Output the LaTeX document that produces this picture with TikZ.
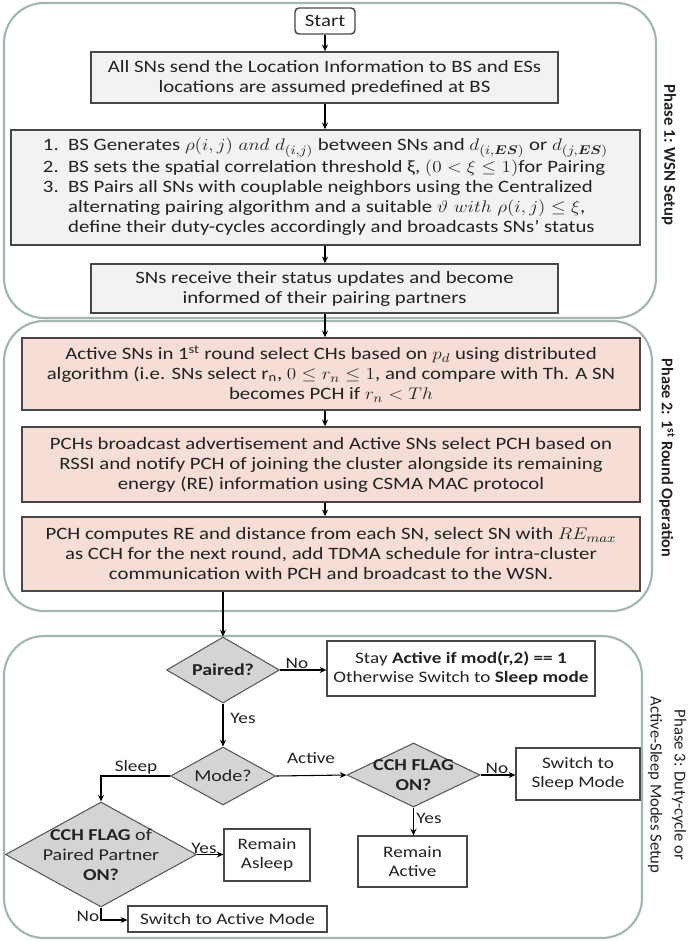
\documentclass[tikz,border=0pt]{standalone}
\usepackage{amsmath}
\usepackage{fontspec}
\setmainfont{Carlito}[FakeStretch=1.2]
\newfontfamily\plainfont{Carlito}
\usetikzlibrary{shapes.geometric,arrows.meta}
\newcommand\mth[1]{\scalebox{1.2}[1.05]{$#1$}}
\definecolor{phasecol}{HTML}{A3B5B5}
\definecolor{boxline}{HTML}{474747}
\definecolor{grayfill}{HTML}{F2F2F2}
\definecolor{pinkfill}{HTML}{F6DDD6}
\definecolor{diafill}{HTML}{D4D4D4}
\definecolor{txt}{HTML}{222222}
\tikzset{
  phasebox/.style={draw=phasecol, line width=1.6pt, rounded corners=30pt},
  basebox/.style={draw=boxline, line width=1.1pt, inner sep=0pt, align=center, text=txt},
  graybox/.style={basebox, fill=grayfill},
  pinkbox/.style={basebox, fill=pinkfill},
  whitebox/.style={basebox, fill=white, line width=0.9pt, font=\fontsize{12}{14.5}\selectfont},
  dia/.style={diamond, draw=boxline!90, line width=0.8pt, fill=diafill, inner sep=0pt},
  diatext/.style={align=center, text=txt, inner sep=0pt},
  lbl/.style={text=txt, inner sep=0pt, font=\fontsize{12}{14.5}\selectfont},
  arr/.style={draw=black, line width=0.8pt, -{Stealth[length=5pt,width=4.5pt]}},
  phaselbl/.style={rotate=-90, align=center, text=txt, inner sep=0pt}
}
\begin{document}
\begin{tikzpicture}[x=0.75pt,y=-0.75pt, every node/.style={font=\fontsize{13}{15}\selectfont}]
\useasboundingbox[fill=white] (0,0) rectangle (688,942);

% phase containers
\draw[phasebox] (4,3) rectangle (656,318);
\draw[phasebox] (4,321) rectangle (652,611);
\draw[phasebox] (4,636) rectangle (642,938);

% phase labels
\node[phaselbl, font=\fontsize{12.5}{19}\selectfont\plainfont\bfseries] (p1) at (669,155) {Phase 1: WSN Setup};
\node[phaselbl, font=\fontsize{12.2}{19}\selectfont\plainfont\bfseries] (p2) at (667,458) {Phase 2: 1\textsuperscript{st} Round Operation};
\node[phaselbl, font=\fontsize{12.5}{18}\selectfont\plainfont] (p3) at (667,785) {Phase 3: Duty-cycle or\\Active-Sleep Modes Setup};

% phase 1
\node[basebox, fill=white, rounded corners=3pt, minimum width=45pt, minimum height=19.5pt] (start) at (325,21) {Start};
\node[graybox, minimum width=350.25pt, minimum height=38.25pt] (b1) at (324.5,77.5)
  {All SNs send the Location Information to BS and ESs\\locations are assumed predefined at BS};
\node[graybox, minimum width=471.75pt, minimum height=86.25pt] (b2) at (325.5,187.5)
  {\begin{tabular}{@{}r@{~~}l@{}}
   1. & BS Generates \mth{\rho(i,j)~and~d_{(i,j)}} between SNs and \mth{d_{(i,\boldsymbol{ES})}} or \mth{d_{(j,\boldsymbol{ES})}}\\[1pt]
   2. & BS sets the spatial correlation threshold ξ, \mth{(0<\xi\le 1)}for Pairing\\
   3. & BS Pairs all SNs with couplable neighbors using the Centralized\\
      & alternating pairing algorithm and a suitable \mth{\vartheta~with~\rho(i,j)\le\xi},\\
      & define their duty-cycles accordingly and broadcasts SNs' status
   \end{tabular}};
\node[graybox, minimum width=350.25pt, minimum height=36.75pt] (b3) at (324.5,288.5)
  {SNs receive their status updates and become\\informed of their pairing partners};

% phase 2
\node[pinkbox, minimum width=463.5pt, minimum height=54pt] (b4) at (331,374)
  {Active SNs in 1\textsuperscript{st} round select CHs based on \mth{p_d} using distributed\\
   algorithm (i.e. SNs select r\textsubscript{n}, \mth{0\le r_n\le 1}, and compare with Th. A SN\\
   becomes PCH if \mth{r_n<Th}};
\node[pinkbox, minimum width=463.5pt, minimum height=56.25pt] (b5) at (331,464.5)
  {PCHs broadcast advertisement and Active SNs select PCH based on\\
   RSSI and notify PCH of joining the cluster alongside its remaining\\
   energy (RE) information using CSMA MAC protocol};
\node[pinkbox, minimum width=463.5pt, minimum height=55.5pt] (b6) at (331,554)
  {PCH computes RE and distance from each SN, select SN with \mth{RE_{max}}\\
   as CCH for the next round, add TDMA schedule for intra-cluster\\
   communication with PCH and broadcast to the WSN.};

% phase 3
\node[dia, minimum width=84.75pt, minimum height=49.5pt] (paired) at (223,670) {};
\node[diatext, font=\fontsize{12.5}{15}\selectfont\bfseries] (pairedt) at (paired) {Paired?};
\node[whitebox, minimum width=201pt, minimum height=41.25pt] (stay) at (461,668.5)
  {Stay \textbf{Active if mod(r,2) == 1}\\Otherwise Switch to \textbf{Sleep mode}};
\node[dia, minimum width=78.75pt, minimum height=43.5pt] (mode) at (223,776) {};
\node[diatext, font=\fontsize{12.5}{15}\selectfont] (modet) at (mode) {Mode?};
\node[dia, minimum width=99.75pt, minimum height=48pt] (cch) at (413.5,775) {};
\node[diatext, font=\fontsize{12.5}{15}\selectfont\bfseries] (ccht) at (cch) {CCH FLAG\\ON?};
\node[whitebox, minimum width=93pt, minimum height=39pt] (sleepbox) at (578,774) {Switch to\\Sleep Mode};
\node[whitebox, minimum width=81.75pt, minimum height=38.25pt] (ractive) at (412.5,861.5) {Remain\\Active};
\node[dia, minimum width=143.25pt, minimum height=78.75pt] (partner) at (101,854.5) {};
\node[diatext, font=\fontsize{12.5}{15}\selectfont] (partnert) at (partner) {\textbf{CCH FLAG} of\\Paired Partner\\\textbf{ON?}};
\node[whitebox, minimum width=64.5pt, minimum height=39pt] (rasleep) at (267,855) {Remain\\Asleep};
\node[whitebox, minimum width=149.25pt, minimum height=19.5pt] (sactive) at (227.5,919) {Switch to Active Mode};
\coordinate (sleepcorner) at (101,776);
\coordinate (nocorner) at (101,920);

% connectors phase 1/2
\draw[arr] (start.south) -- (b1.north -| start.south);
\draw[arr] (b1.south -| start.south) -- (b2.north -| start.south);
\draw[arr] (b2.south -| start.south) -- (b3.north -| start.south);
\draw[arr] (b3.south -| start.south) -- (b4.north -| start.south);
\draw[arr] (b4.south -| start.south) -- (b5.north -| start.south);
\draw[arr] (b5.south -| start.south) -- (b6.north -| start.south);
\draw[arr] (b6.south -| paired.north) -- (paired.north);

% connectors phase 3
\draw[arr] (paired.east) -- (paired.east -| stay.west);
\draw[arr] (paired.south) -- (mode.north);
\draw[arr] (mode.east) -- (cch.west);
\draw[arr] (cch.east) -- (cch.east -| sleepbox.west);
\draw[arr] (cch.south) -- (cch.south |- ractive.north);
\draw[arr] (mode.west) -- (sleepcorner) -- (partner.north);
\draw[arr] (partner.east) -- (partner.east -| rasleep.west);
\draw[arr] (partner.south) -- (nocorner) -- (nocorner -| sactive.west);

% labels
\node[lbl] (lno1) at (297,663) {No};
\node[lbl] (lyes1) at (243,718) {Yes};
\node[lbl] (lsleep) at (136,767) {Sleep};
\node[lbl] (lactive) at (311,758) {Active};
\node[lbl] (lno2) at (497,768) {No};
\node[lbl] (lyes2) at (429,818) {Yes};
\node[lbl] (lyes3) at (204,848) {Yes};
\node[lbl] (lno3) at (88,916) {No};
\end{tikzpicture}
\end{document}
